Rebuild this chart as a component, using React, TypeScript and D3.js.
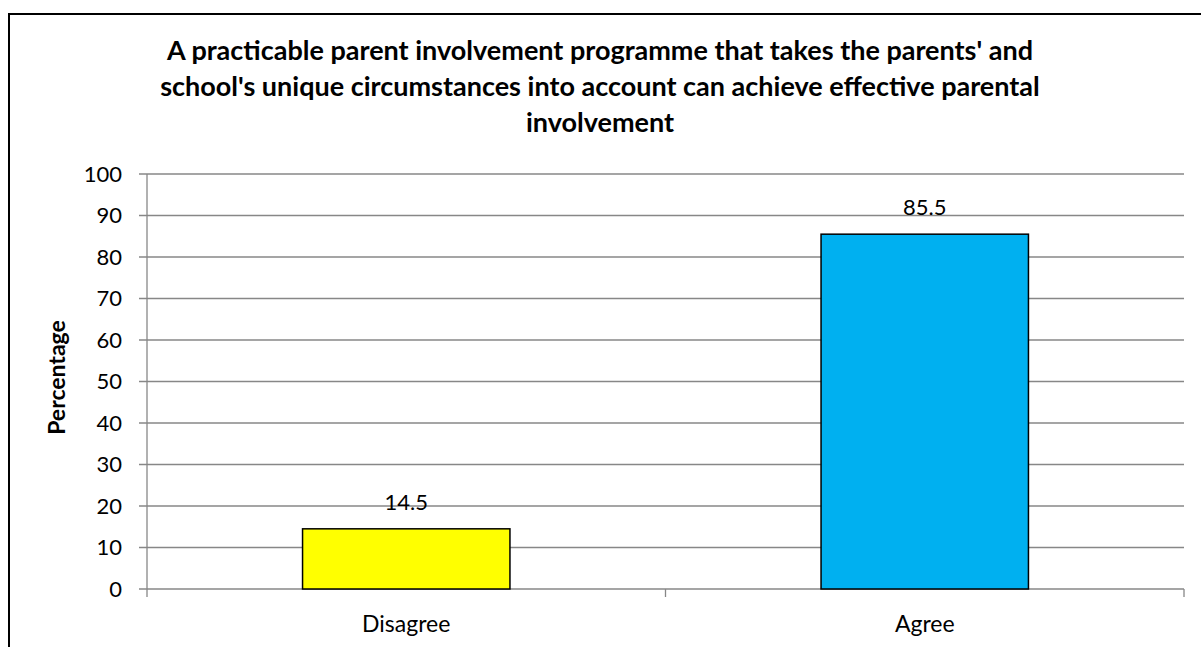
import React from "react";
import * as d3 from "d3";

const categories = ["Disagree", "Agree"];
const values = [14.5, 85.5];
const barColors = ["#FFFF00", "#00B0F0"];
const yTicks = [0, 10, 20, 30, 40, 50, 60, 70, 80, 90, 100];
const titleLines = [
  "A practicable parent involvement programme that takes the parents' and",
  "school's unique circumstances into account can achieve effective parental",
  "involvement",
];
const yAxisTitle = "Percentage";

const W = 1201;
const H = 647;
const FONT = "Lato, 'Open Sans', sans-serif";

export default function App() {
  const left = 147;
  const right = 1184;
  const top = 174;
  const bottom = 589;
  const x = d3.scaleBand<string>().domain(categories).range([left, right]).paddingInner(0.6).paddingOuter(0.3);
  const band = d3.scaleBand<string>().domain(categories).range([left, right]);
  const y = d3.scaleLinear().domain([0, 100]).range([bottom, top]);
  const grid = "#878787";

  return (
    <svg width={W} height={H} style={{ position: "absolute", left: 0, top: 0 }}>
      <rect x={0} y={0} width={W} height={H} fill="#fff" />
      <rect x={9} y={14} width={W + 20} height={H + 20} fill="none" stroke="#000" strokeWidth={2} />
      {titleLines.map((t, i) => (
        <text key={i} x={600} y={60 + i * 36} textAnchor="middle" fontFamily={FONT} fontWeight="bold" fontSize={27} fill="#000">
          {t}
        </text>
      ))}
      {yTicks.map((t) => (
        <g key={t}>
          <line x1={left - 8} x2={right} y1={y(t)} y2={y(t)} stroke={grid} strokeWidth={1.3} />
          <text x={122} y={y(t)} dy="0.36em" textAnchor="end" fontFamily={FONT} fontSize={22} fill="#000">
            {t}
          </text>
        </g>
      ))}
      <line x1={left} x2={left} y1={top} y2={bottom + 8} stroke={grid} strokeWidth={1.3} />
      {categories.map((c, i) => (
        <line key={"t" + i} x1={band(c)! + band.bandwidth()} x2={band(c)! + band.bandwidth()} y1={bottom} y2={bottom + 8} stroke={grid} strokeWidth={1.3} />
      ))}
      {categories.map((c, i) => (
        <g key={c}>
          <rect x={x(c)} y={y(values[i])} width={x.bandwidth()} height={bottom - y(values[i])} fill={barColors[i]} stroke="#000" strokeWidth={1.5} />
          <text x={x(c)! + x.bandwidth() / 2} y={y(values[i]) - 19} textAnchor="middle" fontFamily={FONT} fontSize={22} fill="#000">
            {values[i]}
          </text>
          <text x={band(c)! + band.bandwidth() / 2} y={632} textAnchor="middle" fontFamily={FONT} fontSize={23} fill="#000">
            {c}
          </text>
        </g>
      ))}
      <text transform={`translate(65, ${(top + bottom) / 2 - 4}) rotate(-90)`} textAnchor="middle" fontFamily={FONT} fontWeight="bold" fontSize={23} fill="#000">
        {yAxisTitle}
      </text>
    </svg>
  );
}
